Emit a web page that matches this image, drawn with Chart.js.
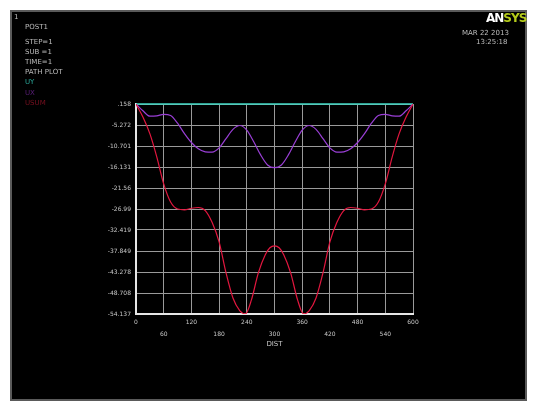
<!DOCTYPE html>
<html>
<head>
<meta charset="utf-8">
<script src="https://cdn.jsdelivr.net/npm/chart.js"></script>
<style>
  body { margin: 0; background: #fff; }
  #wrap { position: relative; width: 534px; height: 401px; overflow: hidden; }
  #panel { position: absolute; left: 10px; top: 10px; width: 517px; height: 391px; box-sizing: border-box;
           border: 2px solid #5a5a5a; background: #000; }
  canvas { position: absolute; left: 0; top: 0; }
  .txt { position: absolute; font-family: "DejaVu Sans", sans-serif; font-size: 7px; color: #bdbdbd; white-space: pre; line-height: 1; }
  #logo { position: absolute; left: 486px; top: 12px; font-family: "DejaVu Sans", sans-serif; font-weight: bold;
          font-size: 12px; letter-spacing: -1px; line-height: 1; }
</style>
</head>
<body>
<div id="wrap">
  <div id="panel"></div>
  <canvas id="pathChart" width="534" height="401"></canvas>
  <div class="txt" style="left:14px;top:14px;">1</div>
  <div class="txt" style="left:25px;top:24px;">POST1</div>
  <div class="txt" style="left:25px;top:39px;">STEP=1</div>
  <div class="txt" style="left:25px;top:49px;">SUB =1</div>
  <div class="txt" style="left:25px;top:59px;">TIME=1</div>
  <div class="txt" style="left:25px;top:69px;">PATH PLOT</div>
  <div class="txt" style="left:25px;top:79px;color:#2aa89a;">UY</div>
  <div class="txt" style="left:25px;top:90px;color:#5b1f7a;">UX</div>
  <div class="txt" style="left:25px;top:100px;color:#7a1020;">USUM</div>
  <div id="logo"><span style="color:#fff;">AN</span><span style="color:#b5cc1a;">SYS</span></div>
  <div class="txt" style="left:462px;top:30px;">MAR 22 2013</div>
  <div class="txt" style="left:476px;top:39px;">13:25:18</div>
</div>
<script>
// path data (DIST along the path)
const uyX = [0, 600];
const uyY = [0.158, 0.158];

const uxX = [0, 15, 30, 45, 60, 75, 90, 105, 120, 135, 150, 165, 180, 195, 210, 225, 240, 255, 270, 285, 300,
             315, 330, 345, 360, 375, 390, 405, 420, 435, 450, 465, 480, 495, 510, 525, 540, 555, 570, 585, 600];
const uxY = [0.158, -1.6, -3.0, -2.9, -2.5, -2.8, -4.8, -7.5, -9.8, -11.4, -12.2, -12.3, -11.2, -8.8, -6.4, -5.4, -6.6, -9.6, -13.0, -15.6, -16.3,
             -15.6, -13.0, -9.6, -6.6, -5.4, -6.4, -8.8, -11.2, -12.3, -12.2, -11.4, -9.8, -7.5, -4.8, -2.8, -2.5, -2.9, -3.0, -1.6, 0.158];

const usumX = [0, 15, 30, 45, 60, 75, 90, 105, 120, 135, 150, 165, 180, 195, 210, 225, 237, 250, 265, 280, 290, 300,
               310, 320, 335, 350, 363, 375, 390, 405, 420, 435, 450, 465, 480, 495, 510, 525, 540, 555, 570, 585, 600];
const usumY = [0.158, -3.2, -7.5, -13.5, -20.5, -25.2, -27.0, -27.2, -26.8, -26.6, -27.4, -30.5, -35.5, -43.5, -50.0, -53.3, -54.1, -50.5, -43.5, -38.8, -37.0, -36.5,
               -37.0, -38.8, -43.5, -50.5, -54.1, -53.3, -50.0, -43.5, -35.5, -30.5, -27.4, -26.6, -26.8, -27.2, -27.0, -25.2, -20.5, -13.5, -7.5, -3.2, 0.158];

const yTicks = [0.158, -5.272, -10.701, -16.131, -21.560, -26.990, -32.419, -37.849, -43.278, -48.708, -54.137];
const yLabels = ['.158', '-5.272', '-10.701', '-16.131', '-21.56', '-26.99', '-32.419', '-37.849', '-43.278', '-48.708', '-54.137'];
const xLabels = ['0', '60', '120', '180', '240', '300', '360', '420', '480', '540', '600'];

function pts(xs, ys) {
    return xs.map((x, i) => ({ x: x, y: ys[i] }));
}

const TICK_FONT = { family: 'DejaVu Sans', size: 6 };

new Chart(document.getElementById('pathChart'), {
    type: 'line',
    data: {
        datasets: [
            { label: 'USUM', data: pts(usumX, usumY), borderColor: '#e3173f', borderWidth: 1.2 },
            { label: 'UX', data: pts(uxX, uxY), borderColor: '#9a3fd6', borderWidth: 1.2 },
            { label: 'UY', data: pts(uyX, uyY), borderColor: '#3fd8c4', borderWidth: 1.6, clip: false }
        ]
    },
    options: {
        responsive: false,
        animation: false,
        elements: { point: { radius: 0 }, line: { tension: 0.4, cubicInterpolationMode: 'monotone' } },
        layout: { padding: { left: 94, right: 121, top: 104, bottom: 47 } },
        plugins: { legend: { display: false }, tooltip: { enabled: false } },
        scales: {
            x: {
                type: 'linear', min: 0, max: 600,
                afterBuildTicks: s => { s.ticks = xLabels.map(v => ({ value: +v })); },
                afterFit: s => { s.height = 40; },
                grid: { color: '#9a9a9a', lineWidth: 1, drawTicks: false },
                border: { color: '#e6e6e6', width: 2 },
                ticks: {
                    color: '#c8c8c8', font: { ...TICK_FONT, lineHeight: 2 }, padding: 2, maxRotation: 0, autoSkip: false,
                    callback: (v, i) => i % 2 === 0 ? [xLabels[i], ''] : ['', xLabels[i]]
                },
                title: { display: true, text: 'DIST', color: '#c8c8c8', font: { family: 'DejaVu Sans', size: 7 }, padding: { top: 0, bottom: 6 } }
            },
            y: {
                type: 'linear', min: -54.137, max: 0.158,
                afterBuildTicks: s => { s.ticks = yTicks.map(v => ({ value: v })); },
                afterFit: s => { s.width = 42; },
                grid: { color: '#9a9a9a', lineWidth: 1, drawTicks: false },
                border: { color: '#e6e6e6', width: 2 },
                ticks: { color: '#c8c8c8', font: TICK_FONT, padding: 5, autoSkip: false, callback: (v, i) => yLabels[i] }
            }
        }
    }
});
</script>
</body>
</html>
